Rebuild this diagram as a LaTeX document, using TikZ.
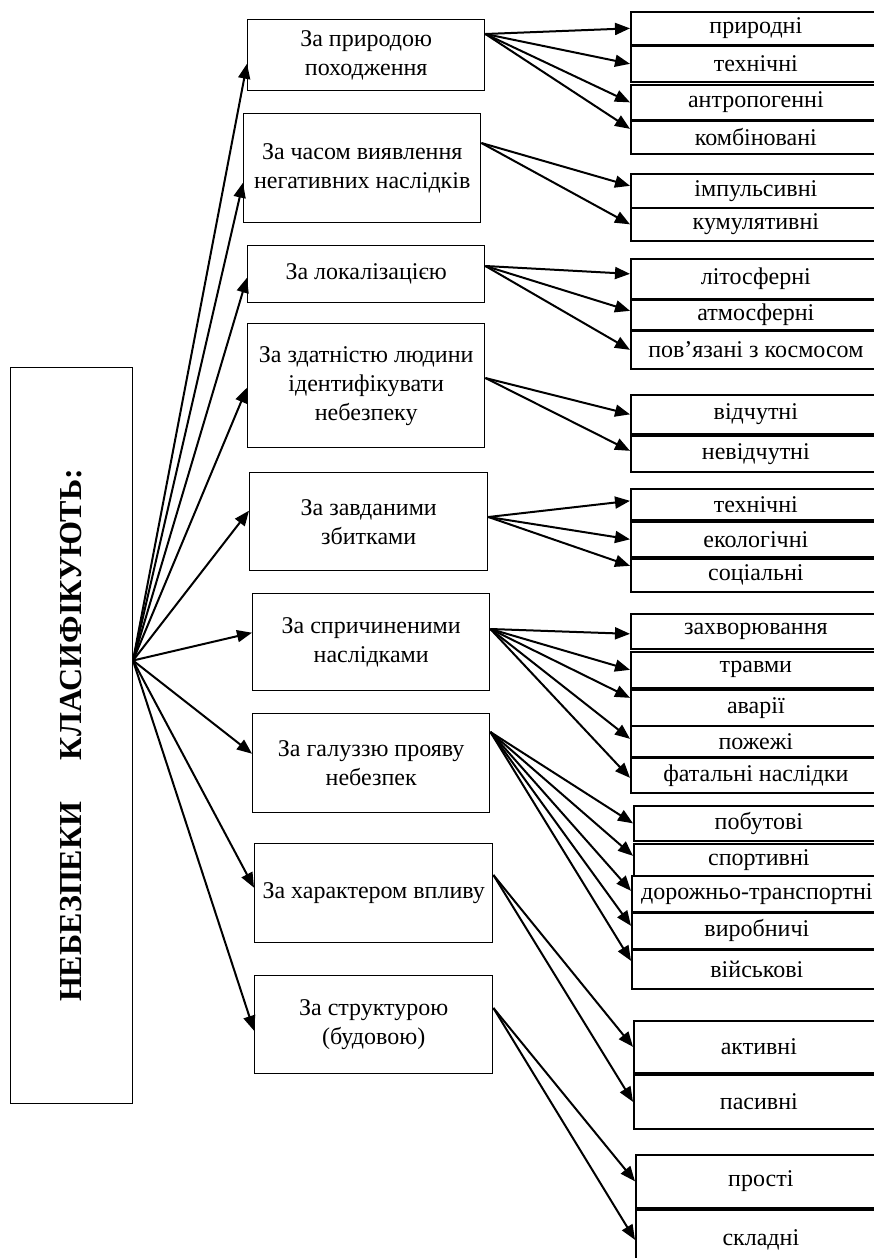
\documentclass[tikz,border=0pt]{standalone}
\usepackage{fontspec}
\setmainfont{Liberation Serif}
\usetikzlibrary{arrows.meta}
\newcommand\myconn[3]{\draw[arr] (#1) -- ([yshift=#3pt]#2.west);}
\begin{document}
\begin{tikzpicture}[x=1pt,y=-1pt,
  mid/.style={draw, line width=1.4pt, inner sep=0pt, anchor=north west, align=center, font=\fontsize{24}{29}\selectfont},
  leaf/.style={draw, line width=1.7pt, inner sep=0pt, anchor=north west, minimum width=250pt, font=\fontsize{24}{29}\selectfont},
  arr/.style={line width=2pt, -{Triangle[length=15pt,width=12pt]}},
  ]
\useasboundingbox (0,0) rectangle (874,1258);
\clip (0,0) rectangle (874,1258);
% left box
\node[draw, line width=1pt, anchor=north west, minimum width=122pt, minimum height=736pt, inner sep=0pt] (L) at (10,367) {};
\node[rotate=90, font=\bfseries\fontsize{32}{38}\selectfont] (Lt) at (L.center) {НЕБЕЗПЕКИ\hspace{1.3em}КЛАСИФІКУЮТЬ:};
\coordinate (fan) at ([yshift=75pt]L.east);
% middle boxes
\node[mid, minimum width=237pt, minimum height=71pt] (m1) at (247,19) {За природою\\походження};
\node[mid, minimum width=237pt, minimum height=109pt] (m2) at (243,113) {За часом виявлення\\негативних наслідків};
\node[mid, minimum width=237pt, minimum height=57pt] (m3) at (247,245) {За локалізацією};
\node[mid, minimum width=237pt, minimum height=124pt] (m4) at (247,323) {За здатністю людини\\ідентифікувати\\небезпеку};
\node[mid, minimum width=238pt, minimum height=98pt] (m5) at (249,472) {За завданими\\збитками};
\node[mid, minimum width=237pt, minimum height=97pt] (m6) at (252,593) {За спричиненими\\наслідками};
\node[mid, minimum width=237pt, minimum height=99pt] (m7) at (252,713) {За галуззю прояву\\небезпек};
\node[mid, minimum width=238pt, minimum height=99pt] (m8) at (254,843) {За характером впливу};
\node[mid, minimum width=238pt, minimum height=98pt] (m9) at (254,975) {За структурою\\(будовою)};
% leaves
\node[leaf, minimum height=33pt] (r1) at (630,11) {природні};
\node[leaf, minimum height=36pt] (r2) at (630,45) {технічні};
\node[leaf, minimum height=35pt] (r3) at (630,84) {антропогенні};
\node[leaf, minimum height=33pt] (r4) at (630,120) {комбіновані};
\node[leaf, minimum height=34pt] (r5) at (630,173) {імпульсивні};
\node[leaf, minimum height=33pt] (r6) at (630,207) {кумулятивні};
\node[leaf, minimum height=40pt] (r7) at (630,258) {літосферні};
\node[leaf, minimum height=30pt] (r8) at (630,299) {атмосферні};
\node[leaf, minimum height=38pt] (r9) at (630,330) {пов’язані з космосом};
\node[leaf, minimum height=39pt] (r10) at (630,394) {відчутні};
\node[leaf, minimum height=36pt] (r11) at (630,435) {невідчутні};
\node[leaf, minimum height=31pt] (r12) at (630,488) {технічні};
\node[leaf, minimum height=35pt] (r13) at (630,521) {екологічні};
\node[leaf, minimum height=33pt] (r14) at (630,558) {соціальні};
\node[leaf, minimum height=35pt] (r15) at (630,613) {захворювання};
\node[leaf, minimum height=36pt] (r16) at (630,651) {травми};
\node[leaf, minimum height=36pt] (r17) at (630,689) {аварії};
\node[leaf, minimum height=31pt] (r18) at (630,725) {пожежі};
\node[leaf, minimum height=35pt] (r19) at (630,757) {фатальні наслідки};
\node[leaf, minimum height=35pt] (r20) at (633,805) {побутові};
\node[leaf, minimum height=32pt] (r21) at (633,843) {спортивні};
\node[leaf, minimum height=36pt] (r22) at (631,875) {дорожньо-транспортні};
\node[leaf, minimum height=36pt] (r23) at (631,912) {виробничі};
\node[leaf, minimum height=39pt] (r24) at (631,949) {військові};
\node[leaf, minimum height=52pt] (r25) at (633,1020) {активні};
\node[leaf, minimum height=54pt] (r26) at (633,1074) {пасивні};
\node[leaf, minimum height=53pt] (r27) at (635,1154) {прості};
\node[leaf, minimum height=60pt] (r28) at (635,1209) {складні};
% fan arrows
\myconn{fan}{m1}{-8.5}
\myconn{fan}{m2}{-14.5}
\myconn{fan}{m3}{-3.5}
\myconn{fan}{m4}{-2}
\myconn{fan}{m5}{11}
\myconn{fan}{m6}{9.5}
\myconn{fan}{m7}{9.5}
\myconn{fan}{m8}{5.5}
\myconn{fan}{m9}{-6}
% sources
\coordinate (s1) at ([yshift=-15pt]m1.north east);
\coordinate (s2) at ([yshift=-30pt]m2.north east);
\coordinate (s3) at ([yshift=-21pt]m3.north east);
\coordinate (s4) at ([yshift=-55pt]m4.north east);
\coordinate (s5) at ([yshift=-45pt]m5.north east);
\coordinate (s6) at ([yshift=-36pt]m6.north east);
\coordinate (s7) at ([yshift=-19pt]m7.north east);
\coordinate (s8) at ([yshift=-32pt]m8.north east);
\coordinate (s9) at ([yshift=-33pt]m9.north east);
% branch arrows
\myconn{s1}{r1}{0}
\myconn{s1}{r2}{0}
\myconn{s1}{r3}{0}
\myconn{s1}{r4}{8.5}
\myconn{s2}{r5}{5}
\myconn{s2}{r6}{0}
\myconn{s3}{r7}{5}
\myconn{s3}{r8}{4}
\myconn{s3}{r9}{0}
\myconn{s4}{r10}{0}
\myconn{s4}{r11}{3}
\myconn{s5}{r12}{3.5}
\myconn{s5}{r13}{0}
\myconn{s5}{r14}{9.5}
\myconn{s6}{r15}{-2.5}
\myconn{s6}{r16}{0}
\myconn{s6}{r17}{10}
\myconn{s6}{r18}{2.5}
\myconn{s6}{r19}{-2.5}
\myconn{s7}{r20}{0}
\myconn{s7}{r21}{4}
\myconn{s7}{r22}{3}
\myconn{s7}{r23}{5}
\myconn{s7}{r24}{8.5}
\myconn{s8}{r25}{0}
\myconn{s8}{r26}{0}
\myconn{s9}{r27}{0}
\myconn{s9}{r28}{0}
\end{tikzpicture}
\end{document}
